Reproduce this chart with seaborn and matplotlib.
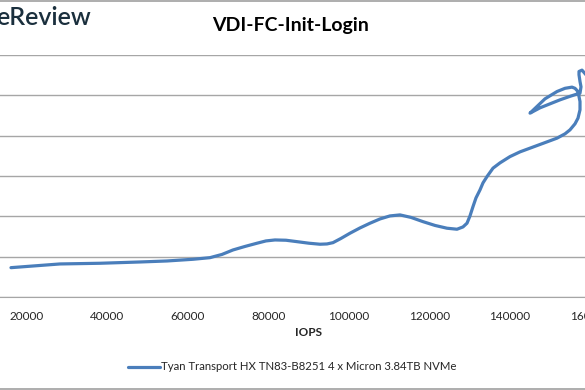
import numpy as np
import pandas as pd
import seaborn as sns
import matplotlib.pyplot as plt
from matplotlib.lines import Line2D

# 数据（从图中读取，按曲线顺序）
iops = [16025, 28199, 38137, 48075, 54783, 61243, 65466, 68448, 71181, 74162,
        77144, 79380, 81616, 84349, 87082, 90063, 92796, 94535, 96026, 98013,
        100250, 102734, 105219, 107703, 110188, 112672, 115405, 118387, 121368, 124349,
        126834, 128324, 129318, 130063, 130809, 131554, 132548, 133293, 134287, 135778,
        137517, 140002, 142486, 144971, 148201, 151679, 153667, 154909, 156151, 156897,
        157394, 157394, 156897, 156151, 155406, 153667, 151679, 148697, 144971, 147456,
        149940, 152424, 154909, 157394, 157643, 157394, 157145, 157145, 157891, 158884]
latency = [0.727, 0.819, 0.836, 0.868, 0.893, 0.935, 0.975, 1.055, 1.166, 1.253,
           1.333, 1.390, 1.414, 1.407, 1.372, 1.333, 1.308, 1.315, 1.347, 1.452,
           1.581, 1.712, 1.829, 1.935, 2.010, 2.035, 1.973, 1.868, 1.774, 1.705,
           1.680, 1.737, 1.829, 2.010, 2.241, 2.457, 2.655, 2.829, 2.985, 3.194,
           3.325, 3.481, 3.598, 3.690, 3.809, 3.938, 4.045, 4.144, 4.293, 4.434,
           4.640, 4.846, 5.094, 5.174, 5.203, 5.174, 5.094, 4.913, 4.558, 4.690,
           4.789, 4.888, 4.975, 5.055, 5.211, 5.342, 5.509, 5.591, 5.625, 5.509]
series_name = 'Tyan Transport HX TN83-B8251 4 x Micron 3.84TB NVMe'
x_ticks = [20000, 40000, 60000, 80000, 100000, 120000, 140000, 160000]
y_ticks = [0, 1, 2, 3, 4, 5, 6]

df = pd.DataFrame({'IOPS': iops, 'Latency': latency})

sns.set_style('white')
plt.rcParams['font.family'] = ['Lato', 'DejaVu Sans']

line_color = '#4a7ebb'
grid_color = '#a6a6a6'

fig = plt.figure(figsize=(5.85, 3.9), dpi=100)
# 图是裁剪过的，坐标轴左侧超出画布
ax = fig.add_axes([-0.0915, 0.2385, 1.2385, 0.6205])

sns.lineplot(data=df, x='IOPS', y='Latency', sort=False, estimator=None,
             color=line_color, linewidth=2.3, ax=ax, legend=False)
for l in ax.lines:
    l.set_solid_joinstyle('round')
    l.set_solid_capstyle('round')

ax.set_xlim(0, 180000)
ax.set_ylim(0, 6)
ax.set_xticks(x_ticks)
ax.set_yticks(y_ticks)
ax.set_yticklabels([])
ax.yaxis.grid(True, color=grid_color, linewidth=1)
ax.xaxis.grid(False)
ax.set_axisbelow(True)
for s in ['top', 'right', 'left']:
    ax.spines[s].set_visible(False)
ax.spines['bottom'].set_color(grid_color)
ax.tick_params(axis='x', direction='out', length=4, color=grid_color,
               labelsize=8.5, labelcolor='#262626', pad=6)
ax.tick_params(axis='y', length=0)
ax.set_xlabel('IOPS', fontsize=8.5, fontweight='bold', color='#262626', labelpad=4)
ax.set_ylabel('')

fig.text(0.497, 0.935, 'VDI-FC-Init-Login', ha='center', va='center',
         fontsize=14, fontweight='bold', color='black')
fig.text(-0.006, 0.955, 'eReview', ha='left', va='center',
         fontsize=18, fontweight='semibold', color='#1a2f3d')

handle = Line2D([0], [0], color=line_color, linewidth=2.3)
fig.legend([handle], [series_name], loc='center', bbox_to_anchor=(0.5, 0.059),
           frameon=False, fontsize=8.2, handlelength=2.8, handletextpad=0.1,
           labelcolor='#262626')

# 顶部和底部的灰色边框
fig.add_artist(Line2D([0, 1], [0.998, 0.998], color='#a0a0a0', linewidth=1.2,
                      transform=fig.transFigure))
fig.add_artist(Line2D([0, 1], [0.003, 0.003], color='#a0a0a0', linewidth=1.2,
                      transform=fig.transFigure))

fig.savefig('out.png', dpi=100)
